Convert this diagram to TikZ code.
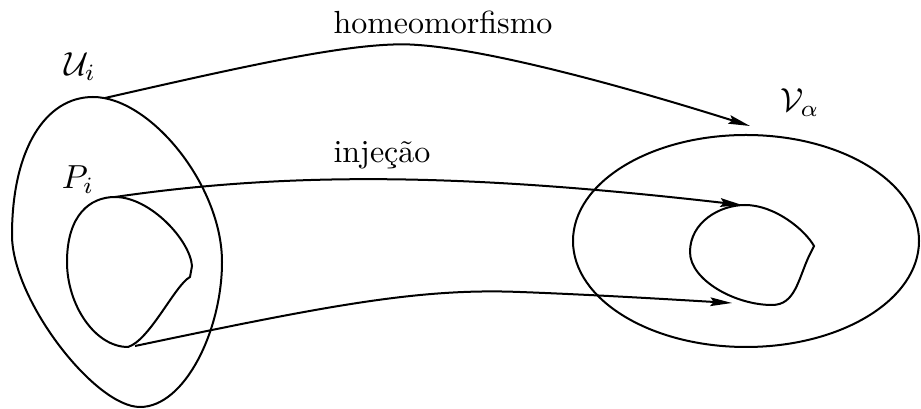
\documentclass[tikz,border=0pt]{standalone}
\usepackage{tikz}
\usetikzlibrary{arrows.meta}

\begin{document}
\begin{tikzpicture}[
  x=0.3pt, y=-0.3pt,
  font=\fontsize{9.6}{11}\selectfont,
  set/.style={draw=black, line width=0.6pt},
  map/.style={draw=black, line width=0.6pt, -{Stealth[length=6.5pt, width=2.6pt, inset=1pt]}},
  lbl/.style={inner sep=1pt}
]
\useasboundingbox (0,0) rectangle (921,409);
% the open set U_i and the piece P_i
\draw[set] (93,97) .. controls (150,97) and (222,185) .. (222,262)
  .. controls (222,330) and (185,407) .. (140,407)
  .. controls (95,407) and (12,300) .. (12,235)
  .. controls (12,150) and (45,97) .. (93,97) -- cycle;
\draw[set] (115,197) .. controls (150,197) and (190,240) .. (192,266) -- (190,277)
  .. controls (175,285) and (150,340) .. (128,347)
  .. controls (95,347) and (67,305) .. (67,262)
  .. controls (67,215) and (90,197) .. (115,197) -- cycle;
% the open set V_alpha and the image of P_i
\draw[set] (746,241) ellipse [x radius=173, y radius=106];
\draw[set] (745,205) .. controls (775,205) and (805,230) .. (814,246) -- (809,256)
  .. controls (798,280) and (795,305) .. (772,305)
  .. controls (735,305) and (690,280) .. (690,252)
  .. controls (690,222) and (720,205) .. (745,205) -- cycle;
% end points
\coordinate (uTop) at (105,98);
\coordinate (pTop) at (115,197);
\coordinate (pBot) at (135,346);
\coordinate (vTop) at (750,126);
\coordinate (qTop) at (742,205);
\coordinate (qBot) at (732,303);
% maps
\draw[map] (uTop) .. controls (250,65) and (360,40) .. (418,45) .. controls (490,50) and (620,85) .. (vTop);
\draw[map] (pTop) .. controls (300,170) and (480,175) .. (qTop);
\draw[map] (pBot) .. controls (330,305) and (420,288) .. (520,292) .. controls (600,295) and (680,300) .. (qBot);
% labels
\node[lbl] (homeo) at (443,22) {homeomorfismo};
\node[lbl] (inj) at (382,155) {injeção};
\node[lbl] (ulabel) at (80,67) {$\mathcal{U}_i$};
\node[lbl] (plabel) at (78,180) {$P_i$};
\node[lbl] (vlabel) at (800,103) {$\mathcal{V}_\alpha$};
\end{tikzpicture}
\end{document}
